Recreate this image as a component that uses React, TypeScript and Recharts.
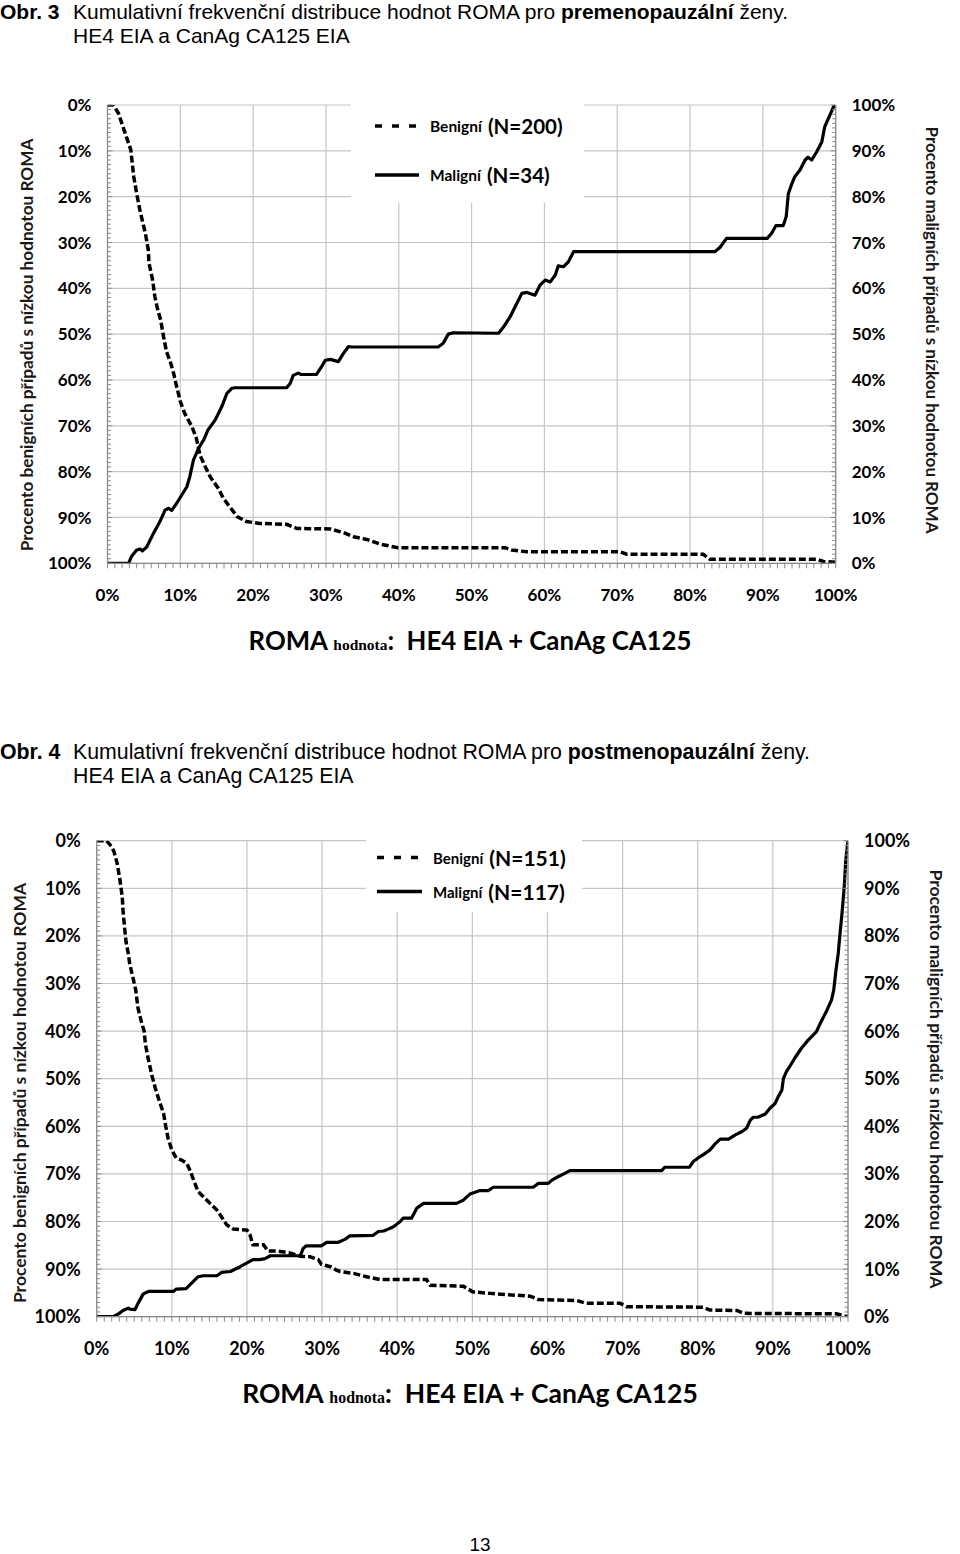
import React from 'react';
import { LineChart, Line, XAxis, YAxis, CartesianGrid, Legend } from 'recharts';

type Pt = [number, number];

// ROMA value (%) -> cumulative % of cases
const preBenign: Pt[] = [
  [0, 0], [0.8, 0], [1.5, 1.8], [2.5, 6.5], [3.2, 9.8], [3.6, 15.6], [4.0, 19.3], [4.5, 23.3],
  [4.9, 26], [5.2, 28], [5.6, 31.6], [5.7, 34.5], [6.2, 38.2], [6.5, 41.8], [6.9, 44.7], [7.3, 46.9],
  [7.7, 50.6], [8.1, 53.8], [8.7, 56.4], [9.1, 58.7], [9.5, 61.5], [10.0, 64.7], [10.6, 67.3],
  [11.6, 70.2], [12.2, 72.7], [12.7, 76.4], [13.3, 78.5], [14.1, 81.1], [15.2, 83.6], [15.9, 85.8],
  [16.8, 87.7], [17.8, 89.8], [19.1, 90.9], [20.9, 91.3], [24.6, 91.5], [26.0, 92.4], [30.6, 92.5],
  [32.4, 93.3], [33.8, 94.2], [35.6, 94.8], [37.4, 95.8], [39.9, 96.6], [54.6, 96.6], [55.5, 97.1],
  [57.6, 97.5], [70.4, 97.5], [71.3, 98.0], [81.8, 98.0], [82.7, 99.1], [97.4, 99.1], [98.3, 99.6],
  [100, 99.8],
];

const preMalign: Pt[] = [
  [0, 0], [2.9, 0], [3.3, 1.5], [4.0, 2.9], [4.5, 3.1], [4.8, 2.7], [5.4, 3.6], [6.3, 6.5], [7.2, 9.1],
  [7.9, 11.6], [8.4, 12.0], [8.8, 11.5], [9.5, 13.1], [10.2, 14.9], [10.9, 16.7], [11.3, 18.9],
  [11.8, 22.5], [12.5, 25.1], [13.2, 26.9], [13.8, 29.1], [14.8, 31.3], [15.7, 34.2], [16.4, 37.1],
  [17.1, 38.2], [17.5, 38.3], [24.6, 38.3], [25.1, 39.3], [25.5, 41], [26.2, 41.5], [26.6, 41.2],
  [28.7, 41.2], [29.4, 42.9], [29.9, 44.3], [30.6, 44.5], [31.7, 44.0], [32.4, 45.8], [33.1, 47.3],
  [33.5, 47.2], [45.4, 47.2], [46.1, 48.0], [46.8, 50.0], [47.5, 50.3], [53.7, 50.2], [54.4, 51.6],
  [55.3, 53.8], [56.2, 56.7], [56.9, 58.9], [57.6, 59.1], [58.7, 58.5], [59.4, 60.7], [60.1, 61.8],
  [60.8, 61.4], [61.5, 62.9], [61.9, 64.9], [62.6, 64.7], [63.3, 65.8], [64.0, 68.0], [83.4, 68.0],
  [84.1, 68.9], [85.0, 70.9], [90.6, 70.9], [91.2, 72.0], [91.8, 73.7], [92.8, 73.7], [93.2, 75.6],
  [93.5, 80.7], [94.0, 82.9], [94.4, 84.4], [95.1, 85.8], [95.8, 88.0], [96.2, 88.6], [96.7, 88.0],
  [97.4, 89.8], [98.1, 92.0], [98.5, 95.3], [99.2, 97.8], [99.7, 99.6], [100, 100],
];

const postBenign: Pt[] = [
  [0, 0], [1.3, 0], [2.0, 1.3], [2.3, 2.3], [2.7, 4.6], [3.1, 8.3], [3.4, 11.8], [3.5, 14.6],
  [3.7, 18.1], [3.9, 21.2], [4.2, 23.7], [4.4, 25.9], [4.9, 29.3], [5.2, 31.4], [5.5, 35.2],
  [6.0, 38.4], [6.3, 39.9], [6.5, 42.9], [6.9, 46.1], [7.3, 49.0], [7.8, 52.0], [8.3, 54.5],
  [8.9, 57.3], [9.2, 60.1], [9.5, 62.5], [10.0, 65.0], [10.6, 66.7], [11.3, 67.1], [12.0, 67.8],
  [12.4, 69.2], [12.9, 71.3], [13.5, 73.7], [14.2, 74.8], [15.1, 76.2], [16.0, 77.6], [16.6, 79.0],
  [17.3, 80.7], [18.2, 81.6], [20.0, 81.8], [20.4, 82.8], [20.8, 84.9], [22.2, 84.9], [22.8, 86.2],
  [24.0, 86.2], [25.7, 86.6], [27.1, 87.3], [28.4, 87.4], [29.5, 88.0], [29.9, 89.0], [31.1, 89.5],
  [31.9, 90.2], [32.4, 90.5], [34.2, 90.9], [35.9, 91.6], [37.7, 92.2], [43.9, 92.2], [44.4, 93.4],
  [48.8, 93.6], [50.1, 94.8], [52.4, 95.1], [57.7, 95.7], [58.8, 96.4], [63.9, 96.6], [65.2, 97.2],
  [69.7, 97.2], [70.5, 97.9], [80.7, 98.0], [81.6, 98.6], [85.2, 98.7], [86.1, 99.3], [98.5, 99.4],
  [99.4, 99.8], [100, 100],
];

const postMalign: Pt[] = [
  [0, 0], [2.2, 0], [2.9, 0.6], [3.5, 1.3], [4.2, 1.8], [4.4, 1.6], [5.1, 1.5], [5.5, 2.8], [6.2, 4.8],
  [6.9, 5.3], [10.2, 5.3], [10.6, 5.8], [11.9, 5.9], [12.6, 7.0], [13.5, 8.4], [14.2, 8.6], [16.0, 8.6],
  [16.6, 9.3], [17.8, 9.5], [18.2, 9.8], [19.1, 10.5], [20.0, 11.3], [20.8, 12.0], [21.7, 12.0],
  [22.4, 12.2], [23.1, 12.8], [27.1, 12.8], [27.5, 14.4], [27.9, 14.9], [29.9, 14.9], [30.6, 15.6],
  [32.1, 15.6], [33.1, 16.3], [33.7, 17.0], [36.8, 17.1], [37.5, 17.9], [38.2, 18.0], [38.8, 18.4],
  [39.5, 18.9], [40.4, 20.0], [40.8, 20.7], [41.9, 20.7], [42.6, 22.8], [43.5, 23.8], [47.9, 23.8],
  [48.8, 24.5], [49.7, 25.8], [51.0, 26.5], [52.1, 26.5], [52.8, 27.2], [58.1, 27.2], [58.8, 28.0],
  [60.1, 28.0], [60.6, 28.7], [61.4, 29.4], [62.3, 30.1], [63.0, 30.7], [75.2, 30.7], [75.6, 31.4],
  [78.9, 31.4], [79.4, 32.6], [80.1, 33.4], [80.7, 34.0], [81.6, 35.0], [82.3, 36.3], [83.0, 37.3],
  [84.1, 37.3], [85.0, 38.2], [85.9, 38.9], [86.5, 39.6], [87.0, 41.3], [87.4, 41.9], [88.0, 41.9],
  [89.0, 42.6], [89.6, 43.8], [90.3, 44.8], [90.7, 46.2], [91.2, 47.6], [91.4, 50.0], [91.8, 51.5],
  [92.1, 52.2], [92.9, 54.3], [93.8, 56.4], [94.7, 58.1], [95.8, 59.9], [96.3, 61.6], [97.2, 64.4],
  [97.8, 66.5], [98.1, 68.6], [98.4, 72.8], [98.7, 76.3], [98.9, 79.8], [99.2, 84.7], [99.5, 90.3],
  [99.7, 95.9], [100, 100],
];

const majorTicks = [0, 10, 20, 30, 40, 50, 60, 70, 80, 90, 100];
const minorTicks = Array.from({ length: 101 }, (_, i) => i);

const seriesNames = ['Benigní', 'Maligní'];
const preCounts = [200, 34];
const postCounts = [151, 117];

const leftTitle = 'Procento benigních případů s nízkou hodnotou ROMA';
const rightTitle = 'Procento maligních případů s nízkou hodnotou ROMA';

const GRID = '#c6c6c6';
const AXIS = '#8a8a8a';
const TITLE_INK = '#1c1a18';
const CHART_FONT = 'Lato, "Open Sans", sans-serif';
const DOC_FONT = '"Liberation Sans", Arial, sans-serif';

const rows = (pts: Pt[]) => pts.map(([x, y]) => ({ x, y }));

interface Layout {
  top: number;
  height: number;
  plotTop: number;
  plotBottom: number;
  plotLeft: number;
  plotRight: number;
  tickFont: number;
  yTickGap: number;
  xTickGap: number;
  legend: { left: number; top: number; width: number; height: number; rowY: number[]; padLeft: number; sample: number; gap: number; small: number; big: number };
  leftTitle: { cx: number; cy: number; size: number };
  rightTitle: { cx: number; cy: number; size: number };
  xTitleY: number;
  xTitleScale: number;
}

const XTick = (fontSize: number) => (props: any) => {
  const { x, y, payload } = props;
  if (payload.value % 10 !== 0) return <g />;
  return (
    <text x={x} y={y} dy="0.71em" textAnchor="middle" fontSize={fontSize} fontWeight={700} fontFamily={CHART_FONT} fill="#000">
      {payload.value}%
    </text>
  );
};

const SideTick = (side: 'left' | 'right', gap: number, fontSize: number) => (props: any) => {
  const { x, y, payload } = props;
  const major = payload.value % 10 === 0;
  const axisX = side === 'left' ? x + gap : x - gap;
  const inward = side === 'left' ? 1 : -1;
  return (
    <g>
      <line x1={axisX} x2={axisX + inward * (major ? 5 : 3.5)} y1={y} y2={y} stroke={AXIS} strokeWidth={1} />
      {major && (
        <text x={x} y={y} dy="0.36em" textAnchor={side === 'left' ? 'end' : 'start'} fontSize={fontSize} fontWeight={700} fontFamily={CHART_FONT} fill="#000">
          {payload.value}%
        </text>
      )}
    </g>
  );
};

const LegendBox = (lay: Layout, counts: number[]) => (props: any) => {
  const payload = props.payload || [];
  const L = lay.legend;
  return (
    <div style={{ position: 'relative', width: L.width, height: L.height, background: '#fff', fontFamily: CHART_FONT, fontWeight: 700, color: '#000' }}>
      {payload.map((entry: any, i: number) => {
        const dashed = entry.value === seriesNames[0];
        return (
          <div key={entry.value} style={{ position: 'absolute', left: L.padLeft, top: L.rowY[i], transform: 'translateY(-50%)', display: 'flex', alignItems: 'center', whiteSpace: 'nowrap' }}>
            <svg width={L.sample} height={6} style={{ display: 'block' }}>
              <line x1={0} x2={L.sample} y1={3} y2={3} stroke="#000" strokeWidth={3.5} strokeDasharray={dashed ? '7 10' : undefined} />
            </svg>
            <span style={{ marginLeft: L.gap, fontSize: L.small }}>{entry.value}</span>
            <span style={{ marginLeft: 6, fontSize: L.big }}>(N={counts[i]})</span>
          </div>
        );
      })}
    </div>
  );
};

const Rotated = ({ cx, cy, size, angle, text }: { cx: number; cy: number; size: number; angle: number; text: string }) => (
  <div
    style={{
      position: 'absolute', left: cx, top: cy, transform: `translate(-50%, -50%) rotate(${angle}deg)`,
      whiteSpace: 'nowrap', fontFamily: CHART_FONT, fontWeight: 700, fontSize: size, color: TITLE_INK, lineHeight: 1,
    }}
  >
    {text}
  </div>
);

function RomaChart({ lay, benign, malign, counts }: { lay: Layout; benign: Pt[]; malign: Pt[]; counts: number[] }) {
  const width = 960;
  const xAxisH = 30;
  const mTop = lay.plotTop - lay.top;
  const mBottom = lay.top + lay.height - lay.plotBottom - xAxisH;
  return (
    <>
      <div style={{ position: 'absolute', left: 0, top: lay.top }}>
        <LineChart width={width} height={lay.height} margin={{ top: mTop, right: 0, bottom: mBottom, left: 0 }}>
          <CartesianGrid
            yAxisId="left"
            stroke={GRID}
            strokeWidth={1.2}
            horizontalValues={majorTicks}
            verticalValues={majorTicks}
          />
          <XAxis
            type="number"
            dataKey="x"
            domain={[0, 100]}
            ticks={minorTicks}
            interval={0}
            height={xAxisH}
            tickSize={5}
            tickMargin={lay.xTickGap}
            tickLine={{ stroke: AXIS }}
            axisLine={{ stroke: AXIS, strokeWidth: 1.2 }}
            tick={XTick(lay.tickFont)}
            allowDataOverflow
          />
          <YAxis
            yAxisId="left"
            type="number"
            domain={[0, 100]}
            reversed
            ticks={minorTicks}
            interval={0}
            width={lay.plotLeft}
            tickSize={0}
            tickLine={false}
            tickMargin={lay.yTickGap}
            axisLine={{ stroke: AXIS, strokeWidth: 1.2 }}
            tick={SideTick('left', lay.yTickGap, lay.tickFont)}
            allowDataOverflow
          />
          <YAxis
            yAxisId="right"
            orientation="right"
            type="number"
            domain={[0, 100]}
            ticks={minorTicks}
            interval={0}
            width={width - lay.plotRight}
            tickSize={0}
            tickLine={false}
            tickMargin={lay.yTickGap}
            axisLine={{ stroke: AXIS, strokeWidth: 1.2 }}
            tick={SideTick('right', lay.yTickGap, lay.tickFont)}
            allowDataOverflow
          />
          <Legend
            layout="vertical"
            align="center"
            verticalAlign="middle"
            wrapperStyle={{ position: 'absolute', left: lay.legend.left, top: lay.legend.top - lay.top, width: lay.legend.width, height: lay.legend.height }}
            content={LegendBox(lay, counts)}
          />
          <Line
            yAxisId="left"
            data={rows(benign)}
            dataKey="y"
            name={seriesNames[0]}
            type="linear"
            stroke="#000"
            strokeWidth={3.5}
            strokeDasharray="7 3"
            dot={false}
            isAnimationActive={false}
          />
          <Line
            yAxisId="right"
            data={rows(malign)}
            dataKey="y"
            name={seriesNames[1]}
            type="linear"
            stroke="#000"
            strokeWidth={3.2}
            strokeLinejoin="round"
            dot={false}
            isAnimationActive={false}
          />
        </LineChart>
      </div>
      <Rotated cx={lay.leftTitle.cx} cy={lay.leftTitle.cy} size={lay.leftTitle.size} angle={-90} text={leftTitle} />
      <Rotated cx={lay.rightTitle.cx} cy={lay.rightTitle.cy} size={lay.rightTitle.size} angle={90} text={rightTitle} />
      <div
        style={{
          position: 'absolute', left: 470, top: lay.xTitleY, transform: `translate(-50%, -50%) scale(${lay.xTitleScale})`,
          whiteSpace: 'nowrap', fontFamily: CHART_FONT, fontWeight: 700, color: '#000', lineHeight: 1,
        }}
      >
        <span style={{ fontSize: 25 }}>ROMA </span>
        <span style={{ fontSize: 15, fontFamily: '"Liberation Serif", serif' }}>hodnota</span>
        <span style={{ fontSize: 25 }}>:&nbsp; HE4 EIA + CanAg CA125</span>
      </div>
    </>
  );
}

const preLayout: Layout = {
  top: 70, height: 610,
  plotTop: 105, plotBottom: 563.3, plotLeft: 107.5, plotRight: 835.7,
  tickFont: 17, yTickGap: 16, xTickGap: 21,
  legend: { left: 351, top: 96, width: 233, height: 107, rowY: [30, 79], padLeft: 24, sample: 44, gap: 11, small: 15.5, big: 20.5 },
  leftTitle: { cx: 27, cy: 345, size: 17.2 },
  rightTitle: { cx: 932, cy: 330, size: 17 },
  xTitleY: 640, xTitleScale: 1.03,
};

const postLayout: Layout = {
  top: 805, height: 620,
  plotTop: 840.7, plotBottom: 1316.7, plotLeft: 96.7, plotRight: 848,
  tickFont: 18, yTickGap: 16, xTickGap: 21,
  legend: { left: 366, top: 832, width: 216, height: 80, rowY: [25, 59], padLeft: 11, sample: 45, gap: 11, small: 15, big: 21 },
  leftTitle: { cx: 20, cy: 1093, size: 17.5 },
  rightTitle: { cx: 936, cy: 1079, size: 17.5 },
  xTitleY: 1393, xTitleScale: 1.06,
};

const Caption = ({ top, num, kind, size }: { top: number; num: number; kind: string; size: number }) => (
  <div style={{ position: 'absolute', left: 0, top, fontFamily: DOC_FONT, fontSize: size, lineHeight: '24px', color: '#000', whiteSpace: 'nowrap' }}>
    <div>
      <b style={{ display: 'inline-block', width: 73 }}>Obr. {num}</b>
      Kumulativní frekvenční distribuce hodnot ROMA pro <b>{kind}</b> ženy.
    </div>
    <div style={{ paddingLeft: 73 }}>HE4 EIA a CanAg CA125 EIA</div>
  </div>
);

export default function App() {
  return (
    <div style={{ position: 'relative', width: 960, height: 1554, background: '#fff', overflow: 'hidden' }}>
      <style>{'body{margin:0}'}</style>
      <Caption top={0} num={3} kind="premenopauzální" size={21} />
      <RomaChart lay={preLayout} benign={preBenign} malign={preMalign} counts={preCounts} />
      <Caption top={740} num={4} kind="postmenopauzální" size={21.3} />
      <RomaChart lay={postLayout} benign={postBenign} malign={postMalign} counts={postCounts} />
      <div style={{ position: 'absolute', left: 480, top: 1545, transform: 'translate(-50%, -50%)', fontFamily: DOC_FONT, fontSize: 19 }}>13</div>
    </div>
  );
}
